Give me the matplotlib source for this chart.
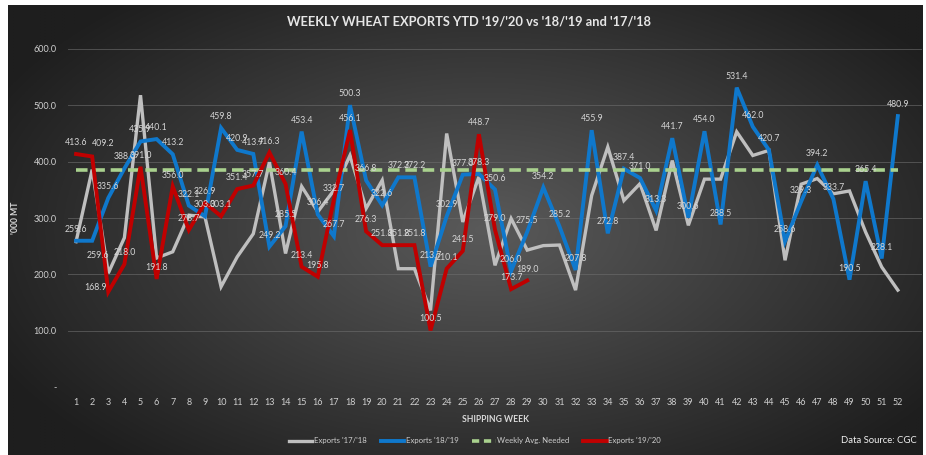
import matplotlib
matplotlib.use("Agg")
import matplotlib.pyplot as plt
import numpy as np

plt.rcParams['font.family'] = ['Lato', 'DejaVu Sans']

# data ('000 MT per shipping week)
weeks = list(range(1, 53))

exp_17_18 = [258, 386, 202, 265, 518, 229, 240, 305, 302, 178,
             231, 272, 399, 237, 356, 311, 349, 411, 317, 367,
             210, 210, 136, 450, 293, 373, 216, 299, 243, 251,
             252, 172, 340, 426, 331, 361, 278, 402, 287, 369,
             369, 453, 411, 420, 225, 360, 370, 343, 348, 275,
             213, 172]

exp_18_19 = [259.6, 259.6, 335.6, 388.0, 435.9, 440.1, 413.2, 322.1, 303.0, 459.8,
             420.9, 413.7, 249.2, 285.5, 453.4, 306.4, 267.7, 500.3, 366.8, 322.6,
             372.2, 372.2, 213.7, 302.9, 377.0, 378.3, 350.6, 206.0, 275.5, 354.2,
             285.2, 207.8, 455.9, 272.8, 387.4, 371.0, 313.3, 441.7, 300.6, 454.0,
             288.5, 531.4, 462.0, 420.7, 258.6, 329.3, 394.2, 333.7, 190.5, 365.4,
             228.1, 480.9]

exp_19_20 = [413.6, 409.2, 168.9, 218.0, 391.0, 191.8, 356.0, 278.7, 326.9, 303.1,
             351.4, 357.7, 416.3, 360.4, 213.4, 195.8, 332.7, 456.1, 276.3, 251.8,
             251.8, 251.8, 100.5, 210.1, 241.5, 448.7, 279.0, 173.7, 189.0]

weekly_avg = 386.0

gray = '#bfbfbf'
blue = '#0f78cc'
red = '#c00000'
green = '#a9d18e'
label_col = '#d6d6d6'

fig = plt.figure(figsize=(9.26, 4.55), dpi=100)
fig.patch.set_facecolor('white')

# dark radial background (white margin round it, as in the screenshot)
bg = fig.add_axes([8/926, 0, 1 - 11/926, 1 - 5/455])
yy, xx = np.mgrid[0:1:300j, 0:1:600j]
r = np.sqrt(((xx - 0.52) / 0.75) ** 2 + ((yy - 0.5) / 0.85) ** 2)
r = np.clip(r / 0.8, 0, 1)
c0 = np.array([0x5a, 0x5a, 0x5a]) / 255
c1 = np.array([0x1e, 0x1e, 0x1e]) / 255
img = c0[None, None, :] * (1 - r[..., None]) + c1[None, None, :] * r[..., None]
bg.imshow(img, aspect='auto', extent=[0, 1, 0, 1], origin='lower')
bg.axis('off')

ax = fig.add_axes([68/926, (455-387)/455, (922-68)/926, (387-49)/455])
ax.patch.set_alpha(0)

ax.plot(weeks, exp_17_18, color=gray, lw=2.4, solid_joinstyle='miter', zorder=3)
ax.plot(weeks, exp_18_19, color=blue, lw=2.8, solid_joinstyle='miter', zorder=4)
ax.plot(weeks, [weekly_avg] * len(weeks), color=green, lw=2.6, ls=(0, (3.2, 1.6)), zorder=5)
ax.plot(weeks[:len(exp_19_20)], exp_19_20, color=red, lw=2.8, solid_joinstyle='miter', zorder=6)

lab_kw = dict(fontsize=6.3, color=label_col, ha='center', zorder=7)
for i, v in enumerate(exp_18_19):
    if i == 1:
        ax.annotate(f'{v:.1f}', (weeks[i], v), xytext=(4, -14), textcoords='offset points',
                    va='bottom', **lab_kw)
    else:
        ax.annotate(f'{v:.1f}', (weeks[i], v), xytext=(0, 5), textcoords='offset points',
                    va='bottom', **lab_kw)
for i, v in enumerate(exp_19_20):
    if i == 2:
        ax.annotate(f'{v:.1f}', (weeks[i], v), xytext=(-9, 0), textcoords='offset points',
                    va='bottom', **lab_kw)
    elif i == 1:
        ax.annotate(f'{v:.1f}', (weeks[i], v), xytext=(8, 6), textcoords='offset points',
                    va='bottom', **lab_kw)
    else:
        ax.annotate(f'{v:.1f}', (weeks[i], v), xytext=(0, 5), textcoords='offset points',
                    va='bottom', **lab_kw)

ax.set_xlim(0.5, 53.5)
ax.set_ylim(0, 600)
ax.set_xticks(weeks)
ax.set_xticklabels([str(w) for w in weeks])
yt = [0, 100, 200, 300, 400, 500, 600]
ax.set_yticks(yt)
ax.set_yticklabels(['-'] + [f'{v:.1f}' for v in yt[1:]])
ax.tick_params(axis='both', length=0, colors='#cfcfcf', labelsize=6.5)
ax.tick_params(axis='x', pad=8)
ax.tick_params(axis='y', pad=8)
ax.grid(axis='y', color='#6e6e6e', lw=0.7, alpha=0.6)
for s in ax.spines.values():
    s.set_visible(False)

ax.set_xlabel('SHIPPING WEEK', fontsize=6.2, fontweight='bold', color='#d9d9d9', labelpad=6)
ax.set_ylabel("'000 MT", fontsize=6.2, fontweight='bold', color='#d9d9d9', labelpad=10)

fig.text(0.507, 0.952, "WEEKLY WHEAT EXPORTS YTD '19/'20 vs '18/'19 and '17/'18",
         ha='center', va='center', fontsize=9.3, fontweight='bold', color='#e6e6e6')

handles = [plt.Line2D([], [], color=gray, lw=2.4),
           plt.Line2D([], [], color=blue, lw=2.8),
           plt.Line2D([], [], color=green, lw=2.6, ls=(0, (2, 1.3))),
           plt.Line2D([], [], color=red, lw=2.8)]
names = ["Exports '17/'18", "Exports '18/'19", "Weekly Avg. Needed", "Exports '19/'20"]
leg = fig.legend(handles, names, loc='center', bbox_to_anchor=(0.513, 0.031), ncol=4,
                 frameon=False, fontsize=5.6, handlelength=3.0, handletextpad=0.2,
                 columnspacing=1.8, labelcolor='#cfcfcf')

fig.text(0.990, 0.031, 'Data Source: CGC', ha='right', va='center', fontsize=6.8, color='#f0f0f0')

fig.savefig('out.png', dpi=100, facecolor=fig.get_facecolor())
